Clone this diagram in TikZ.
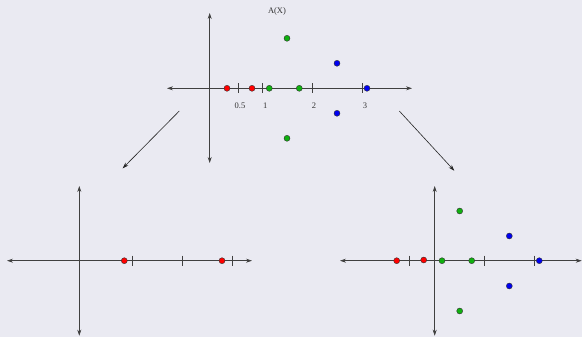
\documentclass[tikz,border=0pt]{standalone}
\usepackage{fontspec}
\setmainfont{Liberation Serif}
\usetikzlibrary{arrows.meta}
\definecolor{bgc}{HTML}{EAEAF2}
\definecolor{dred}{HTML}{FF0000}
\definecolor{dgreen}{HTML}{10B010}
\definecolor{dblue}{HTML}{0000F0}
\begin{document}
\begin{tikzpicture}[x=1pt,y=-1pt,
  axis/.style={line width=0.6pt,draw=black!75,{Stealth[length=6pt,width=4pt]}-{Stealth[length=6pt,width=4pt]}},
  tick/.style={line width=0.6pt,draw=black!75},
  conn/.style={line width=0.6pt,draw=black!85,-{Stealth[length=6pt,width=4pt]}},
  dot/.style={circle,draw=black!80,line width=0.4pt,inner sep=0pt,minimum size=6pt},
  rd/.style={dot,fill=dred},
  gd/.style={dot,fill=dgreen},
  bd/.style={dot,fill=dblue},
  lab/.style={font=\fontsize{8.5}{9}\selectfont,text=black!80,inner sep=0pt}]
\fill[bgc] (0,0) rectangle (582,337);
\useasboundingbox (0,0) rectangle (582,337);
% top diagram
\draw[axis] (167,88.3) -- (412,88.3);
\draw[axis] (209.7,13) -- (209.7,163);
\foreach \x in {238.3,262,312,362} \draw[tick] (\x,83.5) -- (\x,93);
\node[lab] (ax) at (277,11) {A(X)};
\node[lab] (l05) at (240,106) {0.5};
\node[lab] (l1) at (265.3,106) {1};
\node[lab] (l2) at (314,106) {2};
\node[lab] (l3) at (365,106) {3};
\node[rd] (t1) at (227,88.3) {};
\node[rd] (t2) at (252,88.3) {};
\node[gd] (t3) at (269.3,88.3) {};
\node[gd] (t4) at (299.3,88.3) {};
\node[gd] (t5) at (287,38.3) {};
\node[gd] (t6) at (287,138.3) {};
\node[bd] (t7) at (337,63.3) {};
\node[bd] (t8) at (337,113.3) {};
\node[bd] (t9) at (367,88.3) {};
% connectors
\coordinate (la) at (179.3,111);
\coordinate (lb) at (122.7,168.3);
\coordinate (ra) at (399.3,111);
\coordinate (rb) at (454.3,170.7);
\draw[conn] (la) -- (lb);
\draw[conn] (ra) -- (rb);
% bottom left
\draw[axis] (7,260.7) -- (252,260.7);
\draw[axis] (79.3,186) -- (79.3,335.7);
\foreach \x in {132,182,232} \draw[tick] (\x,255.7) -- (\x,265.7);
\node[rd] (b1) at (124.3,260.7) {};
\node[rd] (b2) at (222,260.7) {};
% bottom right
\draw[axis] (340,260.7) -- (581.7,260.7);
\draw[axis] (434.7,186) -- (434.7,335.7);
\foreach \x in {409.7,484.7,534.7} \draw[tick] (\x,255.7) -- (\x,265.7);
\node[rd] (c1) at (396.7,260.7) {};
\node[rd] (c2) at (423.7,260) {};
\node[gd] (c3) at (442,260.7) {};
\node[gd] (c4) at (471.7,260.7) {};
\node[gd] (c5) at (459.7,211) {};
\node[gd] (c6) at (459.7,311) {};
\node[bd] (c7) at (509.3,236) {};
\node[bd] (c8) at (509.3,286) {};
\node[bd] (c9) at (539.3,260.7) {};
\end{tikzpicture}
\end{document}
